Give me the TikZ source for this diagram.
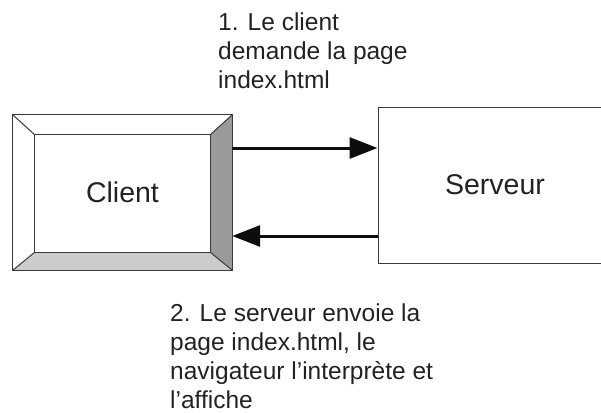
\documentclass[tikz,border=0pt]{standalone}
\usepackage{fontspec}
\setmainfont{Liberation Sans}
\usetikzlibrary{arrows.meta,calc}
\definecolor{txt}{HTML}{222222}
\definecolor{edge}{HTML}{3A3A3A}
\definecolor{darkface}{HTML}{9A9A9A}
\definecolor{lightface}{HTML}{CCCCCC}
\tikzset{
  boxlabel/.style={font=\fontsize{28.5bp}{34bp}\selectfont, text=txt},
  note/.style={font=\fontsize{24.5bp}{29bp}\selectfont, text=txt, align=left, inner sep=0pt, anchor=north west},
  face/.style={draw=edge, line width=1bp, line join=round},
  arr/.style={draw=black!95, line width=3bp, -{Triangle[length=28bp,width=21bp]}}
}
\begin{document}
\begin{tikzpicture}[x=1bp,y=-1bp]
\useasboundingbox (0,0) rectangle (601,412);
\clip (0,0) rectangle (601,412);
% Client (bevelled box)
\node[minimum width=219bp, minimum height=155bp, inner sep=0pt] (client) at (122.5,192.5) {};
\coordinate (inw) at ([xshift=22bp,yshift=-20bp]client.north west);
\coordinate (ine) at ([xshift=-22bp,yshift=-20bp]client.north east);
\coordinate (ise) at ([xshift=-22bp,yshift=18bp]client.south east);
\coordinate (isw) at ([xshift=22bp,yshift=18bp]client.south west);
\fill[white] (client.north west) -- (client.north east) -- (ine) -- (inw) -- cycle;
\fill[white] (client.north west) -- (inw) -- (isw) -- (client.south west) -- cycle;
\fill[darkface] (client.north east) -- (client.south east) -- (ise) -- (ine) -- cycle;
\fill[lightface] (client.south west) -- (isw) -- (ise) -- (client.south east) -- cycle;
\draw[face] (client.north west) rectangle (client.south east);
\draw[face] (inw) -- (ine) -- (ise) -- (isw) -- cycle;
\draw[face] (client.north west) -- (inw);
\draw[face] (client.north east) -- (ine);
\draw[face] (client.south east) -- (ise);
\draw[face] (client.south west) -- (isw);
\node[boxlabel] at (client.center) {Client};
% Serveur
\node[draw=edge, line width=1bp, minimum width=234bp, minimum height=156bp, inner sep=0pt, boxlabel] (server) at (495,185) {Serveur};
% Arrows
\coordinate (t1) at ([yshift=44.5bp]client.east);
\coordinate (b1) at ([yshift=-43.5bp]client.east);
\draw[arr] (t1) -- (t1 -| server.west);
\draw[arr] (b1 -| server.west) -- (b1);
% Notes
\node[note] (n1) at (218,13) {1. Le client\\demande la page\\index.html};
\node[note] (n2) at (170,304) {2. Le serveur envoie la\\page index.html, le\\navigateur l’interprète et\\l’affiche};
\end{tikzpicture}
\end{document}
